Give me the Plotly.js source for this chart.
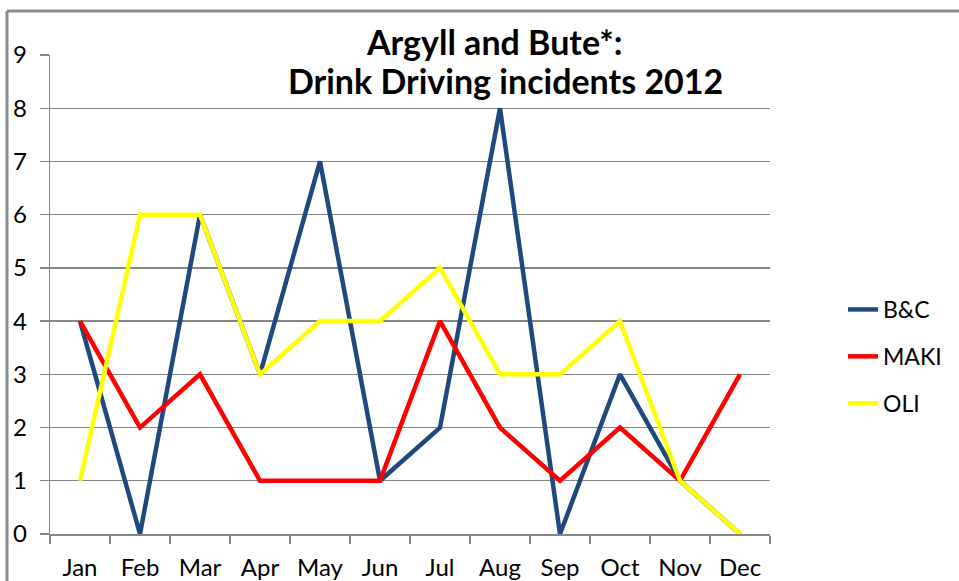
<!DOCTYPE html>
<html>
<head>
<meta charset="utf-8">
<script src="https://cdn.plot.ly/plotly-3.0.1.min.js"></script>
<style>
html,body{margin:0;padding:0;background:#fff;}
#chart{width:959px;height:581px;}
</style>
</head>
<body>
<div id="chart"></div>
<script>
const months = ["Jan","Feb","Mar","Apr","May","Jun","Jul","Aug","Sep","Oct","Nov","Dec"];
const bc   = [4,0,6,3,7,1,2,8,0,3,1,0];
const maki = [4,2,3,1,1,1,4,2,1,2,1,3];
const oli  = [1,6,6,3,4,4,5,3,3,4,1,0];
const seriesNames = ["B&C","MAKI","OLI"];
const seriesColors = ["#1F497D","#FF0000","#FFFF00"];
const yTicks = [0,1,2,3,4,5,6,7,8,9];
const titleLines = ["Argyll and Bute*:","Drink Driving incidents 2012"];

const font = "Lato, 'Open Sans', sans-serif";
const gray = "#868686";

const series = [bc, maki, oli];
const traces = series.map((vals, i) => ({
  type: "scatter",
  mode: "lines",
  x: months,
  y: vals,
  name: seriesNames[i],
  legendgroup: "g" + i,
  line: {color: seriesColors[i], width: 4.5},
  hoverinfo: "x+y+name"
}));

// plot area geometry: left 50, right 770, top 55, bottom 534
const L = 50, R = 189, T = 55, B = 47, W = 959, H = 581;
const pw = W - L - R, ph = H - T - B;
const px = v => (v - L) / pw;
const py = v => (H - B - v) / ph;

const layout = {
  width: W, height: H,
  margin: {l: L, r: R, t: T, b: B, pad: 0},
  paper_bgcolor: "#fff",
  plot_bgcolor: "#fff",
  font: {family: font, color: "#000", size: 23},
  showlegend: true,
  legend: {
    x: px(843), xanchor: "left",
    y: py(288), yanchor: "top",
    font: {family: font, size: 23, color: "#000"},
    tracegroupgap: 14,
    bgcolor: "rgba(0,0,0,0)",
    itemclick: false
  },
  xaxis: {
    type: "category",
    range: [-0.5, 11.5],
    showgrid: false,
    showline: true, linecolor: gray, linewidth: 1.5,
    ticks: "outside", tickson: "boundaries", ticklen: 8, tickcolor: gray, tickwidth: 1.5,
    tickfont: {family: font, size: 24, color: "#000"},
    ticklabelstandoff: 12,
    zeroline: false,
    fixedrange: true
  },
  yaxis: {
    range: [0, 9],
    tickvals: yTicks,
    ticktext: yTicks.map(String),
    showgrid: true, gridcolor: gray, gridwidth: 1.3,
    showline: true, linecolor: gray, linewidth: 1.3,
    ticks: "outside", ticklen: 9, tickcolor: gray, tickwidth: 1.3,
    tickfont: {family: font, size: 24, color: "#000"},
    ticklabelstandoff: 8,
    zeroline: false,
    fixedrange: true
  },
  shapes: [
    {type: "line", xref: "paper", yref: "paper",
     x0: px(7), x1: px(965), y0: py(11), y1: py(11),
     line: {color: "#8c8c8c", width: 3}},
    {type: "line", xref: "paper", yref: "paper",
     x0: px(7), x1: px(7), y0: py(11), y1: py(590),
     line: {color: "#8c8c8c", width: 3}}
  ],
  annotations: [
    {text: "<b>" + titleLines[0] + "</b>", xref: "paper", yref: "paper",
     x: px(494), y: py(41), xanchor: "center", yanchor: "middle",
     showarrow: false, font: {family: font, size: 34, color: "#000"}},
    {text: "<b>" + titleLines[1] + "</b>", xref: "paper", yref: "paper",
     x: px(505), y: py(80), xanchor: "center", yanchor: "middle",
     showarrow: false, font: {family: font, size: 34, color: "#000"}}
  ]
};

Plotly.newPlot("chart", traces, layout, {displayModeBar: false, staticPlot: true});
</script>
</body>
</html>
